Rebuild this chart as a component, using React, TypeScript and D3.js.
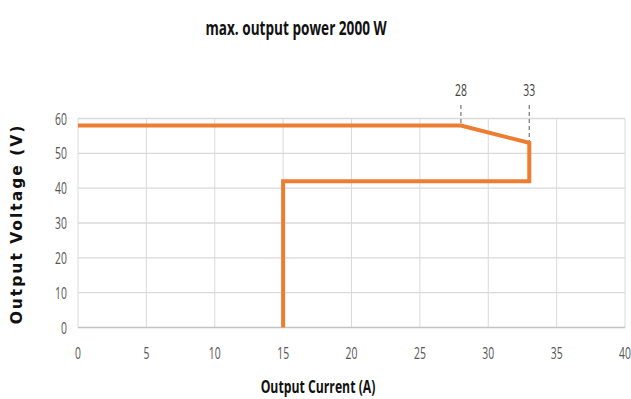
import React from "react";
import * as d3 from "d3";

const curveX = [0, 28, 33, 33, 15, 15];
const curveY = [58, 58, 53, 42, 42, 0];
const xTicks = [0, 5, 10, 15, 20, 25, 30, 35, 40];
const yTicks = [0, 10, 20, 30, 40, 50, 60];
const markers = [28, 33];
const title = "max. output power 2000 W";
const xLabel = "Output Current (A)";
const yLabel = "Output Voltage (V)";

const W = 631, H = 399;
const font = "'Open Sans', 'Noto Sans', sans-serif";

function CText(props: { x: number; y: number; sx: number; size: number; weight?: string | number; fill: string; anchor?: string; children: React.ReactNode }) {
  const { x, y, sx, size, weight, fill, anchor, children } = props;
  return (
    <text transform={`translate(${x},${y}) scale(${sx},1)`} textAnchor={anchor || "middle"} fontFamily={font} fontSize={size} fontWeight={weight || "normal"} fill={fill}>{children}</text>
  );
}

export default function App() {
  const x = d3.scaleLinear().domain([0, 40]).range([78, 625]);
  const y = d3.scaleLinear().domain([0, 60]).range([327.5, 118.5]);
  const pts = curveX.map((v, i) => [v, curveY[i]] as [number, number]);
  const line = d3.line<[number, number]>().x(d => x(d[0])).y(d => y(d[1]));
  const yAt = (xv: number) => curveY[curveX.indexOf(xv)];
  return (
    <svg width={W} height={H} style={{ position: "absolute", left: 0, top: 0, background: "#fff" }}>
      <CText x={296} y={35} sx={0.68} size={20} weight={700} fill="#111">{title}</CText>
      {xTicks.map(t => (
        <line key={"vx" + t} x1={x(t)} x2={x(t)} y1={y(60)} y2={y(0)} stroke="#dadada" strokeWidth={1} />
      ))}
      {yTicks.map(t => (
        <line key={"hy" + t} x1={x(0)} x2={x(40)} y1={y(t)} y2={y(t)} stroke={t === 0 ? "#c4c4c4" : "#d9d9d9"} strokeWidth={t === 0 ? 1.6 : 1.3} />
      ))}
      {xTicks.map(t => (
        <CText key={"tx" + t} x={x(t)} y={359} sx={0.65} size={16} fill="#555">{t}</CText>
      ))}
      {yTicks.map(t => (
        <CText key={"ty" + t} x={67} y={y(t) + 6} sx={0.65} size={16} fill="#555" anchor="end">{t}</CText>
      ))}
      {markers.map(m => (
        <g key={"m" + m}>
          <line x1={x(m)} x2={x(m)} y1={105} y2={y(yAt(m))} stroke="#808080" strokeWidth={1.3} strokeDasharray="4,3" />
          <CText x={x(m)} y={96} sx={0.65} size={16} fill="#404040">{m}</CText>
        </g>
      ))}
      <path d={line(pts) || ""} fill="none" stroke="#ED7D31" strokeWidth={4} strokeLinejoin="miter" />
      <CText x={318} y={393} sx={0.68} size={18} weight={700} fill="#111">{xLabel}</CText>
      <text transform={`translate(22,${224}) rotate(-90)`} textAnchor="middle" fontFamily="'DejaVu Sans', sans-serif" fontWeight="bold" fontSize={15.5} fill="#111" letterSpacing={2}>{yLabel}</text>
    </svg>
  );
}
